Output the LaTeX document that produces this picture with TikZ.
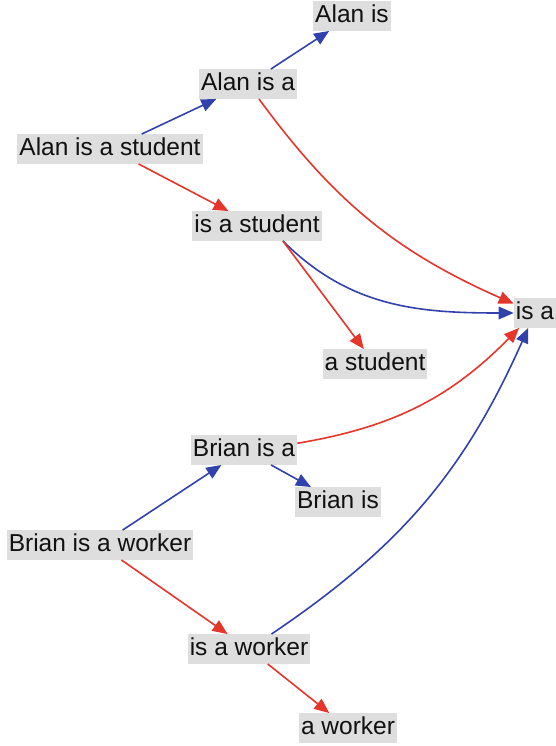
\documentclass[tikz,border=0pt]{standalone}
\usepackage{fontspec}
\setmainfont{Liberation Sans}
\usepackage{tikz}
\usepackage{xcolor}
\usetikzlibrary{arrows.meta,positioning}
\definecolor{boxgray}{HTML}{DEDEDE}
\definecolor{ink}{HTML}{111111}
\definecolor{edgeblue}{HTML}{3242AC}
\definecolor{edgered}{HTML}{E6352B}
\tikzset{
  phrase/.style={fill=boxgray,text=ink,inner xsep=2pt,inner ysep=2pt,
                 text height=19.5pt,text depth=6pt,
                 font=\fontsize{24.5}{28}\selectfont},
  redarr/.style={-{Triangle[length=15pt,width=12.5pt]},line width=1.6pt,
                 draw=edgered},
  bluearr/.style={-{Triangle[length=15pt,width=12.5pt]},line width=1.6pt,
                  draw=edgeblue}
}
\begin{document}
\begin{tikzpicture}[x=1pt,y=-1pt]
    \path[use as bounding box] (0,0) rectangle (556,746);

    % first sentence
    \node[phrase] (alanis) at (352,16) {Alan is};
    \node[phrase] (alanisa) at (248,84) {Alan is a};
    \node[phrase] (alanfull) at (110,149) {Alan is a student};
    \node[phrase] (isastudent) at (257,226) {is a student};
    \node[phrase] (astudent) at (375,364) {a student};

    % shared phrase
    \node[phrase] (isa) at (535,313) {is a};

    % second sentence
    \node[phrase] (brianisa) at (244,450) {Brian is a};
    \node[phrase] (brianis) at (338,502) {Brian is};
    \node[phrase] (brianfull) at (100,545) {Brian is a worker};
    \node[phrase] (isaworker) at (249,649) {is a worker};
    \node[phrase] (aworker) at (348,728) {a worker};

    \draw[bluearr] (alanfull) -- (alanisa);
    \draw[bluearr] (alanisa) -- (alanis);
    \draw[redarr] (alanfull) -- (isastudent);
    \draw[redarr] (alanisa) to[bend right=15] (isa);
    \draw[bluearr] (isastudent.-30) to[out=-45,in=180] (isa);
    \draw[redarr] (isastudent.-30) -- (astudent);

    \draw[bluearr] (brianfull) -- (brianisa);
    \draw[bluearr] (brianisa) -- (brianis);
    \draw[redarr] (brianisa) to[bend right=18] (isa);
    \draw[bluearr] (isaworker) to[bend right=16] (isa);
    \draw[redarr] (brianfull) -- (isaworker);
    \draw[redarr] (isaworker) -- (aworker);
  \end{tikzpicture}
\end{document}
